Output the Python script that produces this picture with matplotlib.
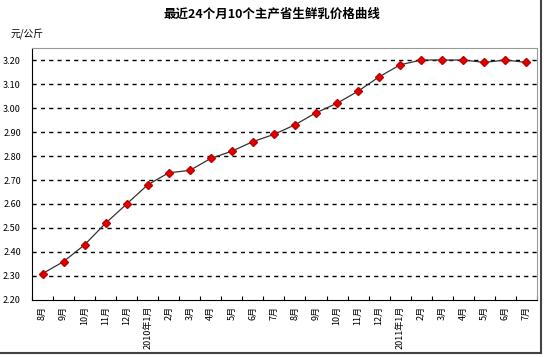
import matplotlib
matplotlib.use("Agg")
import matplotlib.pyplot as plt
from matplotlib.lines import Line2D
import numpy as np

plt.rcParams['font.family'] = ['Noto Sans CJK SC', 'DejaVu Sans']

# months: Aug 2009 .. Jul 2011
months = ["8月", "9月", "10月", "11月", "12月", "2010年1月", "2月", "3月", "4月", "5月",
          "6月", "7月", "8月", "9月", "10月", "11月", "12月", "2011年1月", "2月", "3月",
          "4月", "5月", "6月", "7月"]
prices = [2.31, 2.36, 2.43, 2.52, 2.60, 2.68, 2.73, 2.74, 2.79, 2.82,
          2.86, 2.89, 2.93, 2.98, 3.02, 3.07, 3.13, 3.18, 3.20, 3.20,
          3.20, 3.19, 3.20, 3.19]
yticks = [2.20, 2.30, 2.40, 2.50, 2.60, 2.70, 2.80, 2.90, 3.00, 3.10, 3.20]

fig = plt.figure(figsize=(5.44, 3.57), dpi=100)
ax = fig.add_axes([0.0588, 0.1597, 0.9282, 0.7058])

x = np.arange(len(months))
for yv in yticks[1:]:
    ax.axhline(yv, color="black", linewidth=1, linestyle=(0, (3, 3)), zorder=1)

ax.plot(x, prices, color="#333333", linewidth=0.9, zorder=2)
ax.plot(x, prices, linestyle="none", marker="D", markersize=4.5,
        markerfacecolor="#e00000", markeredgecolor="#c00000", zorder=3)

ax.set_xlim(-0.5, len(months) - 0.5)
ax.set_ylim(2.20, 3.25)
ax.set_yticks(yticks)
ax.set_yticklabels([f"{v:.2f}" for v in yticks], fontsize=6.5)
ax.tick_params(axis="y", length=0, pad=8)

ax.set_xticks(x)
ax.set_xticklabels(months, rotation=90, fontsize=6.5, va="top")
ax.tick_params(axis="x", length=0, pad=4)
ax.set_xticks(np.arange(len(months) + 1) - 0.5, minor=True)
ax.tick_params(axis="x", which="minor", direction="in", length=3, width=0.8)

for side in ["top", "right"]:
    ax.spines[side].set_color("#999999")
for side in ["left", "bottom"]:
    ax.spines[side].set_color("black")

fig.text(0.5, 0.961, "最近24个月10个主产省生鲜乳价格曲线", ha="center", va="center",
         fontsize=9, fontweight="bold")
fig.text(0.02, 0.907, "元/公斤", ha="left", va="center", fontsize=7, style="italic")

# chart frame (right and bottom edges)
fig.add_artist(Line2D([0, 0.9945], [0.011, 0.011], transform=fig.transFigure,
                      color="#444444", linewidth=1.5))
fig.add_artist(Line2D([0.9945, 0.9945], [0.011, 1.0], transform=fig.transFigure,
                      color="#444444", linewidth=1.5))

fig.savefig("out.png", dpi=100)
